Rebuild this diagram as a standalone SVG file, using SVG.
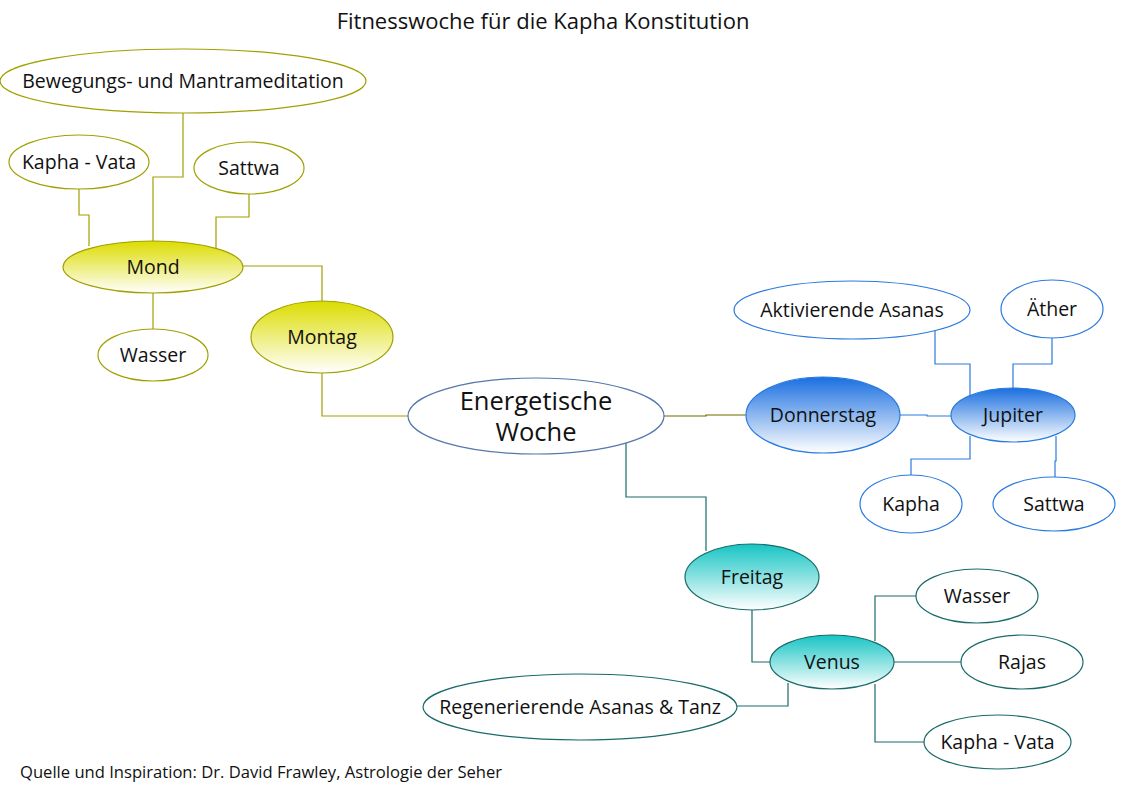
<svg xmlns="http://www.w3.org/2000/svg" width="1123" height="794" viewBox="0 0 1123 794">
<defs>
<linearGradient id="gY" x1="0" y1="0" x2="0" y2="1">
<stop offset="0" stop-color="#dcdc00"/><stop offset="1" stop-color="#ffffff"/>
</linearGradient>
<linearGradient id="gB" x1="0" y1="0" x2="0" y2="1">
<stop offset="0" stop-color="#1a6fe0"/><stop offset="1" stop-color="#ffffff"/>
</linearGradient>
<linearGradient id="gT" x1="0" y1="0" x2="0" y2="1">
<stop offset="0" stop-color="#17c4c4"/><stop offset="1" stop-color="#ffffff"/>
</linearGradient>
</defs>
<style>
text{font-family:"Open Sans","Noto Sans","DejaVu Sans",sans-serif;fill:#111;text-anchor:middle;}
.n{font-size:19.5px;}
.y{stroke:#a0a000;stroke-width:1.2;}
.b{stroke:#2a7ae0;stroke-width:1.2;}
.t{stroke:#1a6a6a;stroke-width:1.2;}
.w{fill:#fff;}
.c{fill:none;stroke-width:1.2;}
</style>
<rect width="1123" height="794" fill="#fff"/>
<text x="543" y="29" style="font-size:22px">Fitnesswoche für die Kapha Konstitution</text>
<text x="20" y="778" style="font-size:16.6px;text-anchor:start">Quelle und Inspiration: Dr. David Frawley, Astrologie der Seher</text>

<g id="connectors" class="c">
<path class="c y" d="M183 113V177H153V241"/>
<path class="c y" d="M79 189V215H89V246"/>
<path class="c y" d="M249 194V217H216V248"/>
<path class="c y" d="M243 266H322V301"/>
<path class="c y" d="M153 293V329"/>
<path class="c y" d="M322 373V416H408"/>
<path class="c" stroke="#6b6b00" d="M664 416H706V415H746"/>
<path class="c b" d="M900 415H927V416H951"/>
<path class="c b" d="M935 330V364H970V397"/>
<path class="c b" d="M1052 338V364H1013V389"/>
<path class="c b" d="M970 436V459H911V475"/>
<path class="c b" d="M1056 436V461H1055V477"/>
<path class="c t" d="M626 443V497H706V551"/>
<path class="c t" d="M752 610V662H770"/>
<path class="c t" d="M875 641V596H917"/>
<path class="c t" d="M894 662H962"/>
<path class="c t" d="M875 684V742H924"/>
<path class="c t" d="M788 683V706H737"/>
</g>

<g id="bewegung"><ellipse class="y w" cx="183" cy="81" rx="183" ry="32"/><text class="n" x="183" y="88">Bewegungs- und Mantrameditation</text></g>
<g id="kaphavata1"><ellipse class="y w" cx="79" cy="162" rx="70" ry="27"/><text class="n" x="79" y="169">Kapha - Vata</text></g>
<g id="sattwa1"><ellipse class="y w" cx="249" cy="168" rx="55" ry="26"/><text class="n" x="249" y="175">Sattwa</text></g>
<g id="mond"><ellipse class="y" fill="url(#gY)" cx="153" cy="267" rx="90" ry="26"/><text class="n" x="153" y="274">Mond</text></g>
<g id="wasser1"><ellipse class="y w" cx="153" cy="355" rx="55" ry="26"/><text class="n" x="153" y="362">Wasser</text></g>
<g id="montag"><ellipse class="y" fill="url(#gY)" cx="322" cy="337" rx="71" ry="36"/><text class="n" x="322" y="344">Montag</text></g>

<g id="energetische"><ellipse fill="#fff" stroke="#5577aa" stroke-width="1.2" cx="536" cy="416" rx="128" ry="38"/><text x="536" y="410" style="font-size:25.5px">Energetische</text><text x="536" y="441" style="font-size:25.5px">Woche</text></g>

<g id="donnerstag"><ellipse class="b" fill="url(#gB)" cx="823" cy="415" rx="77" ry="38"/><text class="n" x="823" y="422">Donnerstag</text></g>
<g id="jupiter"><ellipse class="b" fill="url(#gB)" cx="1013" cy="415" rx="62" ry="27"/><text class="n" x="1013" y="422">Jupiter</text></g>
<g id="aktivierende"><ellipse class="b w" cx="852" cy="310" rx="118" ry="29"/><text class="n" x="852" y="317">Aktivierende Asanas</text></g>
<g id="aether"><ellipse class="b w" cx="1052" cy="309" rx="51" ry="29"/><text class="n" x="1052" y="316">Äther</text></g>
<g id="kapha2"><ellipse class="b w" cx="911" cy="504" rx="51" ry="29"/><text class="n" x="911" y="511">Kapha</text></g>
<g id="sattwa2"><ellipse class="b w" cx="1054" cy="504" rx="61" ry="27"/><text class="n" x="1054" y="511">Sattwa</text></g>

<g id="freitag"><ellipse class="t" fill="url(#gT)" cx="752" cy="577" rx="67" ry="33"/><text class="n" x="752" y="584">Freitag</text></g>
<g id="venus"><ellipse class="t" fill="url(#gT)" cx="832" cy="662" rx="62" ry="27"/><text class="n" x="832" y="669">Venus</text></g>
<g id="wasser2"><ellipse class="t w" cx="977" cy="596" rx="61" ry="27"/><text class="n" x="977" y="603">Wasser</text></g>
<g id="rajas"><ellipse class="t w" cx="1022" cy="662" rx="61" ry="27"/><text class="n" x="1022" y="669">Rajas</text></g>
<g id="kaphavata2"><ellipse class="t w" cx="997.5" cy="742" rx="73.5" ry="27"/><text class="n" x="997.5" y="749">Kapha - Vata</text></g>
<g id="regenerierende"><ellipse class="t w" cx="580" cy="707" rx="157" ry="33"/><text class="n" x="580" y="714">Regenerierende Asanas &amp; Tanz</text></g>
</svg>
